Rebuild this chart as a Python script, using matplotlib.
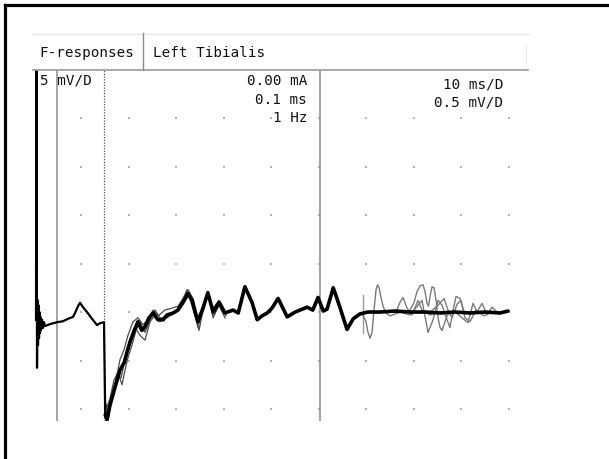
import numpy as np
import matplotlib
matplotlib.use("Agg")
import matplotlib.pyplot as plt
from matplotlib.lines import Line2D

# ---------------- data ----------------
M_GAIN = 5.0   # mV per division (M-response part)
F_GAIN = 0.5   # mV per division (F-response part)

m_time_ms = [0.53, 0.63, 0.74, 0.84, 0.95, 1.05, 1.16, 1.26, 1.37, 1.47, 1.58, 1.79,
             2.00, 2.21, 2.42, 3.47, 4.95, 6.21, 7.26, 8.32, 8.74, 9.37, 9.79, 10.42,
             11.26, 12.32, 13.37, 14.00, 14.84]
m_amp_mv = [-0.8, 27.5, -5.75, 1.25, -3.4, 0.7, -2.7, 0.0, -2.15, -0.5, -1.85, -0.8,
            -1.65, -1.05, -1.45, -1.25, -1.05, -0.95, -0.7, -0.5, -0.1, 0.6, 0.95, 0.5,
            0.0, -0.7, -1.35, -1.15, -1.05]

f_time_ms = [15.1, 15.5, 16.1, 17.2, 18.2, 19.1, 19.7, 20.3, 21.2, 22.0, 22.8, 23.5,
             24.3, 25.2, 26.2, 27.3, 28.1, 29.4, 30.4, 31.5, 32.5, 33.4, 34.0, 34.6,
             35.7, 36.7, 37.8, 39.1, 40.3, 42.0, 43.1, 44.5, 46.0, 47.1, 48.1, 49.2,
             50.2, 51.5, 52.5, 53.4, 55.1, 56.1, 57.6, 58.8, 59.9, 61.0, 61.8, 63.1,
             64.5, 66.0, 67.3, 68.7, 70.4, 73.0, 76.1, 79.3, 82.4, 85.6, 88.7, 91.9,
             95.1, 98.2, 99.9]
f_amp_mv = [-1.06, -1.11, -0.96, -0.77, -0.60, -0.52, -0.41, -0.31, -0.19, -0.10, -0.19,
            -0.15, -0.06, -0.01, -0.08, -0.08, -0.03, -0.01, 0.02, 0.10, 0.19, 0.12,
            0.0, -0.10, 0.04, 0.20, 0.0, 0.10, -0.01, 0.02, -0.01, 0.26, 0.10, -0.08,
            -0.04, -0.01, 0.04, 0.14, 0.04, -0.05, 0.0, 0.02, 0.05, 0.02, 0.15, 0.01,
            0.03, 0.25, 0.05, -0.18, -0.07, -0.02, 0.0, 0.0, 0.01, 0.0, 0.0, -0.01,
            0.0, -0.01, 0.0, -0.01, 0.01]

# individual sweeps that spread out during the early recovery
sweep1_ms = [15.05, 15.68, 16.53, 17.58, 18.42, 19.26, 20.32, 21.37, 22.42, 23.47, 24.53,
             25.58, 26.63, 27.68, 29.16, 30.84, 32.32, 33.58, 34.63, 35.89, 36.74, 37.79,
             39.05, 40.32]
sweep1_mv = [-0.91, -1.03, -0.89, -0.65, -0.68, -0.49, -0.34, -0.16, -0.24, -0.29, -0.10,
             -0.03, -0.10, -0.04, -0.03, 0.06, 0.23, 0.07, -0.16, 0.07, 0.21, -0.06,
             0.07, -0.06]
sweep2_ms = [15.05, 15.68, 16.53, 17.37, 18.21, 19.05, 19.89, 20.95, 22.00, 23.05, 24.11,
             25.16, 26.21, 27.68, 29.16, 30.42, 31.47, 32.53, 33.58, 34.63, 35.68, 36.74,
             37.79, 39.05, 40.32]
sweep2_mv = [-0.96, -1.11, -0.82, -0.70, -0.49, -0.39, -0.24, -0.10, -0.06, -0.13, -0.08,
             0.02, -0.04, 0.02, 0.04, 0.06, 0.14, 0.23, 0.14, -0.06, 0.07, 0.16, 0.04,
             0.12, 0.0]
sweep3_ms = [15.26, 16.11, 16.95, 17.79, 18.63, 19.26, 19.89, 20.74, 21.58, 22.42, 23.47,
             24.53, 25.58, 26.63, 28.11, 29.89, 31.47, 32.74, 34.00, 34.84, 36.11, 36.95,
             38.00, 39.26, 40.53]
sweep3_mv = [-1.01, -0.89, -0.70, -0.62, -0.75, -0.60, -0.47, -0.34, -0.19, -0.10, -0.21,
             -0.08, 0.02, -0.06, -0.06, 0.0, 0.12, 0.16, -0.03, -0.19, 0.12, 0.18,
             -0.03, 0.10, -0.04]

# late F-waves of single sweeps
fw1_ms = [68.74, 69.37, 70.00, 70.42, 70.84, 71.26, 71.68, 72.11, 72.42, 72.74, 73.16,
          73.58, 74.21, 75.05, 76.11, 77.16]
fw1_mv = [-0.02, -0.03, -0.10, -0.21, -0.27, -0.21, 0.02, 0.23, 0.28, 0.25, 0.15, 0.06,
          -0.01, -0.04, -0.02, 0.0]
fw2_ms = [78.21, 79.26, 80.11, 80.74, 81.37, 82.00, 82.42, 82.84, 83.16, 83.47, 83.89,
          84.32, 84.74, 85.16, 85.58, 86.00, 86.42, 87.05, 87.68, 88.74]
fw2_mv = [0.0, 0.02, 0.10, 0.21, 0.27, 0.28, 0.21, 0.09, 0.06, 0.16, 0.26, 0.25, 0.12,
          -0.06, -0.16, -0.19, -0.13, -0.04, 0.0, 0.0]
fw3_ms = [77.16, 79.26, 80.95, 81.79, 83.05, 84.11, 85.16, 86.00, 87.05, 87.68, 88.32,
          88.95, 89.79, 90.63, 91.89]
fw3_mv = [0.0, -0.03, 0.07, 0.12, -0.21, -0.08, 0.12, 0.07, -0.08, -0.16, 0.02, 0.16,
          0.14, 0.0, -0.01]
fw4_ms = [75.05, 76.32, 77.16, 77.79, 78.63, 79.68, 80.95, 81.79, 83.47, 85.58, 88.74,
          90.21, 91.47, 92.53, 93.37, 94.42, 95.47, 96.53, 97.79, 99.26]
fw4_mv = [0.0, 0.0, 0.10, 0.15, 0.04, -0.03, 0.12, 0.02, -0.03, 0.0, 0.0, -0.06, -0.11,
          0.09, 0.0, 0.09, -0.03, 0.05, -0.01, 0.0]
fw5_ms = [83.47, 85.16, 86.42, 87.26, 88.11, 89.16, 90.00, 90.84, 91.89, 93.16, 94.84, 96.53]
fw5_mv = [0.0, 0.07, 0.14, 0.02, -0.06, 0.08, 0.12, -0.06, -0.10, 0.02, -0.04, 0.0]

cursor_ms = [4.95, 60.3]
gain_switch_ms = 14.84
marker_ms = 69.4
marker_mv = [-0.216, 0.175]

title_left = "F-responses"
title_right = "Left Tibialis"
sens_label = "5 mV/D"
stim_labels = ["0.00 mA", "0.1 ms", "1 Hz"]
scale_labels = ["10 ms/D", "0.5 mV/D"]

grid_x_ms = list(range(10, 101, 10))
grid_y_div = list(range(-2, 5))

# ---------------- figure ----------------
W, H = 609, 459
fig = plt.figure(figsize=(W / 100, H / 100), dpi=100)
fig.patch.set_facecolor("white")


def fx(px):
    return px / W


def fy(py):
    return 1 - py / H


ax = fig.add_axes([fx(33), fy(421), fx(528) - fx(33), fy(70) - fy(421)])
ax.set_xlim(-0.105, 104.1)
ax.set_ylim(-2.247, 4.99)
ax.axis("off")

# grid dots
gx, gy = np.meshgrid(grid_x_ms, grid_y_div)
ax.scatter(gx.ravel(), gy.ravel(), s=1.2, color="#b5b5b5", marker="s", linewidths=0, zorder=1)

# cursors
for c in cursor_ms:
    ax.axvline(c, color="#959595", lw=1.2, zorder=2)
ax.axvline(gain_switch_ms, color="#555555", lw=0.9, ls=(0, (1, 1.2)), zorder=2)
ax.plot([marker_ms, marker_ms], np.array(marker_mv) / F_GAIN, color="#9a9a9a", lw=1.0, zorder=2)

# sweeps (thin gray)
for t, v in [(sweep1_ms, sweep1_mv), (sweep2_ms, sweep2_mv), (sweep3_ms, sweep3_mv)]:
    ax.plot(t, np.array(v) / F_GAIN, color="#4a4a4a", lw=0.9, zorder=3,
            solid_joinstyle="round")
for t, v in [(fw1_ms, fw1_mv), (fw2_ms, fw2_mv), (fw3_ms, fw3_mv), (fw4_ms, fw4_mv), (fw5_ms, fw5_mv)]:
    ax.plot(t, np.array(v) / F_GAIN, color="#7a7a7a", lw=1.0, zorder=3,
            solid_joinstyle="round")

# main superimposed bundle
x_all = np.concatenate([m_time_ms, f_time_ms])
y_all = np.concatenate([np.array(m_amp_mv) / M_GAIN, np.array(f_amp_mv) / F_GAIN])
ax.plot(x_all, y_all, color="black", lw=1.6, zorder=4, solid_joinstyle="round")
ax.plot(f_time_ms, np.array(f_amp_mv) / F_GAIN, color="black", lw=2.6, zorder=4,
        solid_joinstyle="round", solid_capstyle="round")

# ---------------- header / frame ----------------
def fline(x0, y0, x1, y1, **kw):
    fig.add_artist(Line2D([fx(x0), fx(x1)], [fy(y0), fy(y1)], transform=fig.transFigure, **kw))


fline(33, 33.5, 528, 33.5, color="#e6e6e6", lw=1.0)
fline(33, 70, 528, 70, color="#9a9a9a", lw=1.2)
fline(143, 33, 143, 70, color="#8a8a8a", lw=1.0)
fline(526, 45, 526, 68, color="#ececec", lw=0.8)
# outer frame (left and top only visible)
fline(4.5, 4.5, 4.5, 459, color="black", lw=2.3)
fline(4.5, 4.5, 609, 4.5, color="black", lw=2.3)

font = dict(family="DejaVu Sans Mono", fontsize=10.3, color="#111111")
fig.text(fx(39), fy(53), title_left, ha="left", va="center", **font)
fig.text(fx(153), fy(53), title_right, ha="left", va="center", **font)
fig.text(fx(40), fy(81), sens_label, ha="left", va="center", **font)
for lab, py in zip(stim_labels, [81, 100, 118]):
    fig.text(fx(307), fy(py), lab, ha="right", va="center", **font)
for lab, py in zip(scale_labels, [85, 103]):
    fig.text(fx(503), fy(py), lab, ha="right", va="center", **font)

fig.savefig("out.png", dpi=100, facecolor="white")
